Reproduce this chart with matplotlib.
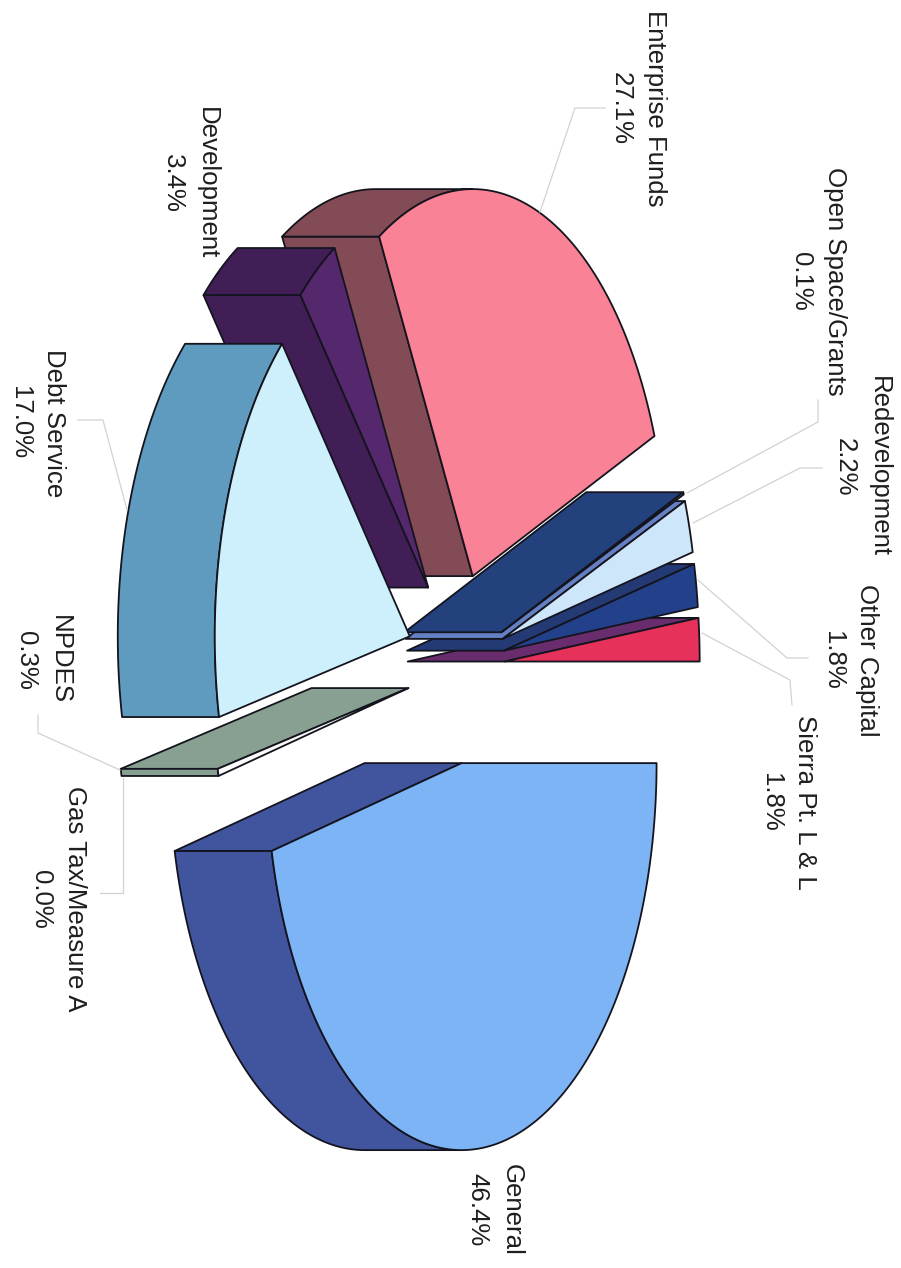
import numpy as np
import matplotlib
matplotlib.use('Agg')
import matplotlib.pyplot as plt
from matplotlib.patches import Polygon

# Funds, clockwise from the horizontal edge of the General slice
funds = ['General', 'Gas Tax/Measure A', 'NPDES', 'Debt Service', 'Development',
         'Enterprise Funds', 'Open Space/Grants', 'Redevelopment', 'Other Capital',
         'Sierra Pt. L & L']
shares = [46.4, 0.0, 0.3, 17.0, 3.4, 27.1, 0.1, 2.2, 1.8, 1.8]

top_colors = ['#7db4f5', '#c8d2c8', '#fbfbfb', '#cdf0fc', '#55286e',
              '#fa8296', '#6e82c8', '#cde6fa', '#23418a', '#e6325a']
side_colors = ['#41559f', '#87a091', '#87a091', '#5f9bbe', '#411e55',
               '#824b55', '#23417d', '#6480c3', '#233a75', '#692d6e']

# centre of each label block
label_pos = [(495, 1210), (58, 899), (43, 660), (37, 423), (190, 183),
             (638, 108), (818, 281), (862, 467), (850, 660), (788, 802)]

# leader lines from slice to label
leaders = {
    'Gas Tax/Measure A': [(123, 778), (123, 893), (100, 893)],
    'NPDES': [(120, 770), (38, 733), (38, 715)],
    'Debt Service': [(127, 510), (103, 420), (78, 420)],
    'Enterprise Funds': [(540, 212), (575, 108), (605, 108)],
    'Open Space/Grants': [(687, 493), (818, 422), (818, 400)],
    'Redevelopment': [(693, 523), (800, 468), (822, 468)],
    'Other Capital': [(698, 580), (787, 658), (808, 658)],
    'Sierra Pt. L & L': [(702, 633), (790, 680), (792, 705)],
}

# pie geometry, in figure pixels
CX, CY = 456, 667
RX, RY = 195, 387
EXPLODE = 0.25
DEPTH = 97
EDGE = '#14141e'


def rim(t):
    t = np.radians(t)
    return np.column_stack([RX * np.cos(t), RY * np.sin(t)])


def draw_slice(ax, t0, t1, top, side):
    mid = rim((t0 + t1) / 2)[0] * EXPLODE
    apex = np.array([CX, CY]) + mid
    back = np.array([-DEPTH, 0])
    ts = np.linspace(t0, t1, max(2, int((t1 - t0) * 2)))
    arc = apex + rim(ts)

    style = dict(edgecolor=EDGE, linewidth=1.3, joinstyle='round')
    # cut faces: only the ones turned towards the viewer
    if np.sin(np.radians(t0)) < 0:
        p = arc[0]
        ax.add_patch(Polygon([apex, p, p + back, apex + back], facecolor=side, **style))
    if np.sin(np.radians(t1)) > 0:
        p = arc[-1]
        ax.add_patch(Polygon([apex, p, p + back, apex + back], facecolor=side, **style))
    # outer wall
    lo, hi = max(t0, 90), min(t1, 270)
    if hi > lo:
        wall = apex + rim(np.linspace(lo, hi, max(2, int((hi - lo) * 2))))
        ax.add_patch(Polygon(np.vstack([wall, (wall + back)[::-1]]), facecolor=side, **style))
    # top face
    ax.add_patch(Polygon(np.vstack([apex, arc]), facecolor=top, **style))


def main():
    fig = plt.figure(figsize=(9.01, 12.68), dpi=100)
    ax = fig.add_axes([0, 0, 1, 1])
    ax.set_xlim(0, 901)
    ax.set_ylim(1268, 0)
    ax.axis('off')

    angles = np.cumsum([0] + shares) / sum(shares) * 360

    # far slices first so nearer ones paint over them
    for i in range(len(funds) - 1, -1, -1):
        if shares[i] > 0:
            draw_slice(ax, angles[i], angles[i + 1], top_colors[i], side_colors[i])

    for name, pts in leaders.items():
        xs, ys = zip(*pts)
        ax.plot(xs, ys, color='#d2d2d2', lw=0.9)

    for name, share, (x, y) in zip(funds, shares, label_pos):
        ax.text(x, y, f'{name}\n{share:.1f}%', rotation=270, ha='center', va='center',
                multialignment='center', family='Liberation Sans', fontsize=18.6,
                color='#1e1e1e', linespacing=1.55)

    fig.savefig('out.png', dpi=100)


if __name__ == "__main__":
    main()
